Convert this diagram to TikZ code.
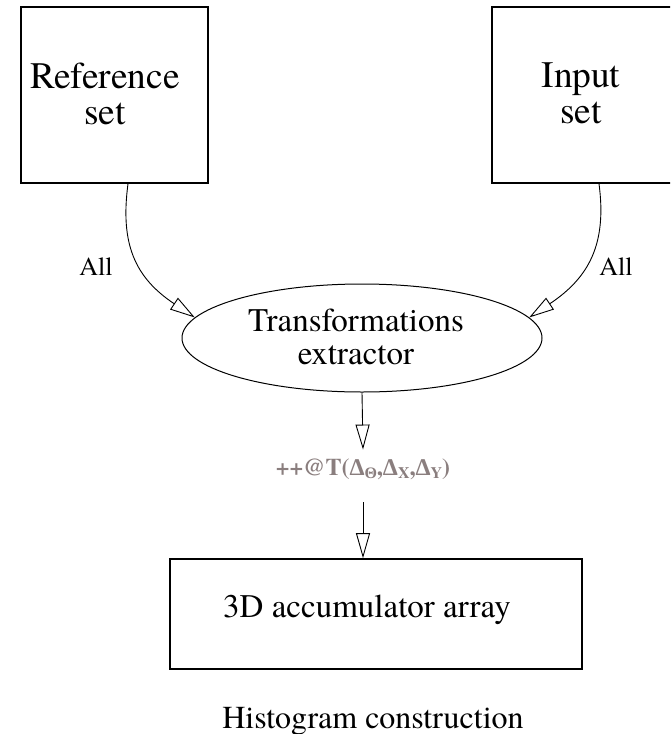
\documentclass[tikz,border=0pt]{standalone}
\usepackage{fontspec}
\setmainfont{texgyretermes}[Extension=.otf, UprightFont=*-regular, BoldFont=*-bold, ItalicFont=*-italic, BoldItalicFont=*-bolditalic]
\newfontfamily\greekfont{Liberation Serif}
\usetikzlibrary{arrows.meta,shapes.geometric}
\definecolor{labgray}{RGB}{138,126,126}
\tikzset{
  box/.style={draw, line width=0.8pt, inner sep=0pt},
  bigtxt/.style={anchor=center, inner sep=0pt, align=center, font=\fontsize{18.7}{18}\selectfont},
  midtxt/.style={inner sep=0pt, font=\fontsize{16.5}{16.5}\selectfont},
  alllab/.style={anchor=base, inner sep=0pt, font=\fontsize{13}{13}\selectfont},
  conn/.style={line width=0.45pt, -{Triangle[open, length=12.5pt, width=7pt, line width=0.45pt]}}
}
\begin{document}
\begin{tikzpicture}[x=0.5pt, y=-0.5pt]
\clip (0,0) rectangle (670,734);
\fill[white] (0,0) rectangle (670,734);
% boxes
\node[box, minimum width=93.5pt, minimum height=88pt] (ref) at (114.5,95) {};
\node[box, minimum width=93.5pt, minimum height=88pt] (inp) at (585.5,95) {};
\node[box, minimum width=206pt, minimum height=55pt] (acc) at (376,614) {};
\node[draw, ellipse, line width=0.5pt, inner sep=0pt, minimum width=180pt, minimum height=54pt] (ext) at (362,338) {};
% texts
\node[bigtxt] (reft) at (105,93.5) {Reference\\set};
\node[bigtxt] (inpt) at (581,93.5) {Input\\set};
\node[midtxt, anchor=center, align=center] (extt) at (356,337) {Transformations\\extractor};
\node[midtxt, anchor=base] (acct) at (367,617) {3D accumulator array};
\node[anchor=base, inner sep=0pt, font=\fontsize{16}{16}\selectfont] (cap) at (373,728) {Histogram construction};
\node[alllab] (alll) at (96,275) {All};
\node[alllab] (allr) at (616,275) {All};
\node[anchor=base, inner sep=0pt, text height=12.5pt, text depth=13.5pt, text=labgray,
      font=\fontsize{12}{12}\selectfont\bfseries] (lab) at (363,475)
  {++@T({\greekfont\bfseries Δ}\raisebox{-1.5pt}{\fontsize{8}{8}\selectfont\greekfont\bfseries Θ},{\greekfont\bfseries Δ}\raisebox{-1.5pt}{\fontsize{8}{8}\selectfont X},{\greekfont\bfseries Δ}\raisebox{-1.5pt}{\fontsize{8}{8}\selectfont Y})};
% connectors
\draw[conn] ([xshift=6.75pt]ref.south) .. controls +(-8,60) and +(-60,-40) .. (ext.173);
\draw[conn] ([xshift=6.75pt]inp.south) .. controls +(8,60) and +(60,-40) .. (ext.7);
\draw[conn] (ext.south) -- (lab.north);
\draw[conn] (lab.south) -- (acc.north -| lab.south);
\end{tikzpicture}
\end{document}
